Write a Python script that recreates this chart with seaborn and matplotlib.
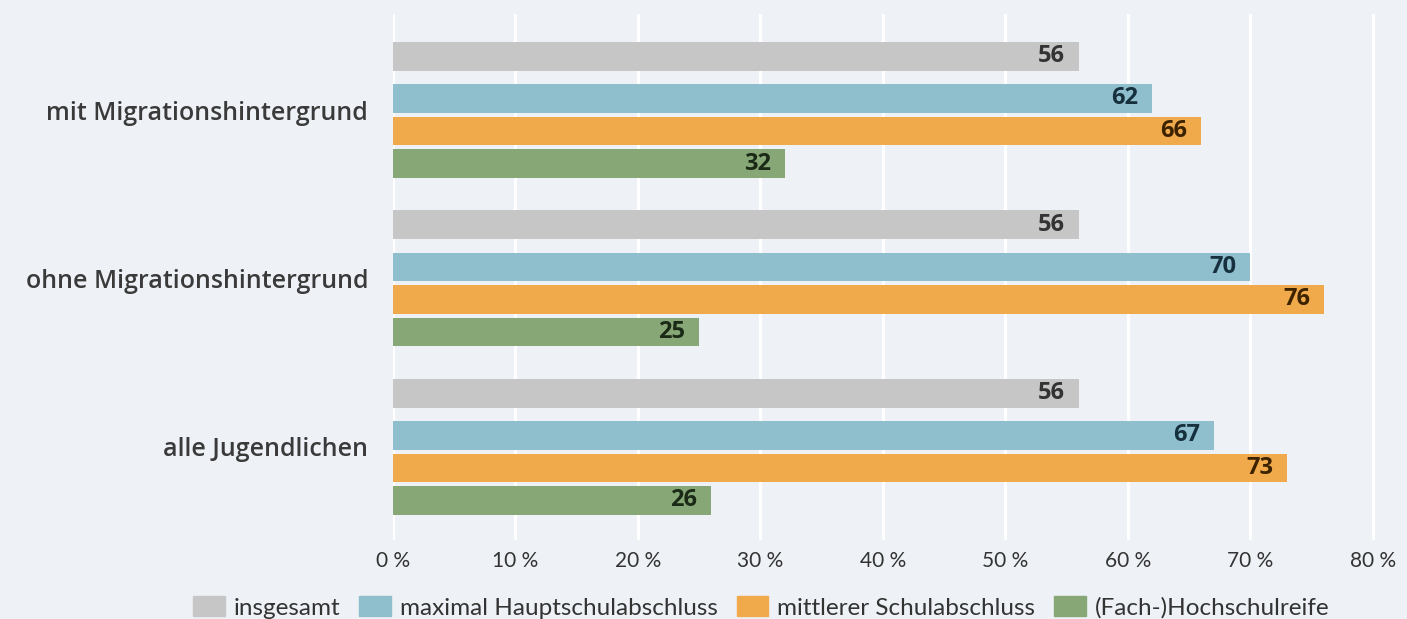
import matplotlib
matplotlib.use("Agg")
import matplotlib.pyplot as plt
import seaborn as sns
import pandas as pd

groups = ["mit Migrationshintergrund", "ohne Migrationshintergrund", "alle Jugendlichen"]
series = ["insgesamt", "maximal Hauptschulabschluss", "mittlerer Schulabschluss", "(Fach-)Hochschulreife"]
insgesamt = [56, 56, 56]
hauptschule = [62, 70, 67]
mittlerer = [66, 76, 73]
hochschulreife = [32, 25, 26]
xticks = [0, 10, 20, 30, 40, 50, 60, 70, 80]
xticklabels = ["0 %", "10 %", "20 %", "30 %", "40 %", "50 %", "60 %", "70 %", "80 %"]

colors = ["#c6c6c6", "#8fbecd", "#f0aa4b", "#87a876"]
label_colors = ["#333333", "#17303d", "#3d2200", "#1b2a16"]
bg = "#eef2f6"

rows = []
for s, vals in zip(series, [insgesamt, hauptschule, mittlerer, hochschulreife]):
    for g, v in zip(groups, vals):
        rows.append({"Gruppe": g, "Abschluss": s, "Wert": v})
df = pd.DataFrame(rows)

sns.set_theme(style="white")
plt.rcParams["font.family"] = ["Open Sans", "DejaVu Sans"]

fig = plt.figure(figsize=(14.07, 6.19), dpi=100, facecolor=bg)
ax = fig.add_axes([393 / 1407, 1 - 540 / 619, (1385 - 393) / 1407, (540 - 14) / 619])
ax.set_facecolor(bg)

sns.barplot(data=df, y="Gruppe", x="Wert", hue="Abschluss", order=groups,
            hue_order=series, palette=colors, orient="h", width=0.772, gap=0.11,
            saturation=1, ax=ax, legend=False)

# separate the "insgesamt" bar slightly from the other three
for i, cont in enumerate(ax.containers):
    shift = -0.03 if i == 0 else 0.028
    for p in cont.patches:
        p.set_y(p.get_y() + shift)
        p.set_edgecolor("none")

for i, (cont, vals) in enumerate(zip(ax.containers, [insgesamt, hauptschule, mittlerer, hochschulreife])):
    for p, v in zip(cont.patches, vals):
        yc = p.get_y() + p.get_height() / 2
        ax.annotate(str(v), xy=(v, yc), xytext=(-10, 0), textcoords="offset points",
                    ha="right", va="center", fontsize=17, fontweight="bold",
                    color=label_colors[i], family=["Open Sans", "DejaVu Sans"])

ax.set_xlim(0, 81)
ax.set_ylim(2.552, -0.57)
ax.set_xticks(xticks)
ax.set_xticklabels(xticklabels, family=["Lato", "DejaVu Sans"], fontsize=15, color="#333333")
ax.tick_params(axis="x", length=0, pad=8)
ax.tick_params(axis="y", length=0, pad=18)
for t in ax.get_yticklabels():
    t.set_fontsize(18)
    t.set_fontweight("semibold")
    t.set_color("#3a3a3a")
ax.set_xlabel("")
ax.set_ylabel("")
ax.xaxis.grid(True, color="white", linewidth=2.2)
ax.set_axisbelow(True)
for s in ax.spines.values():
    s.set_visible(False)

handles = [plt.Rectangle((0, 0), 1, 1, color=c) for c in colors]
fig.legend(handles, series, loc="lower center", bbox_to_anchor=(0.541, -0.035), ncol=4,
           frameon=False, handlelength=1.3, handleheight=0.9,
           handletextpad=0.35, columnspacing=0.8,
           prop={"family": ["Lato", "DejaVu Sans"], "size": 17.5})
for t in fig.legends[0].get_texts():
    t.set_color("#333333")

fig.savefig("out.png", dpi=100, facecolor=bg)
